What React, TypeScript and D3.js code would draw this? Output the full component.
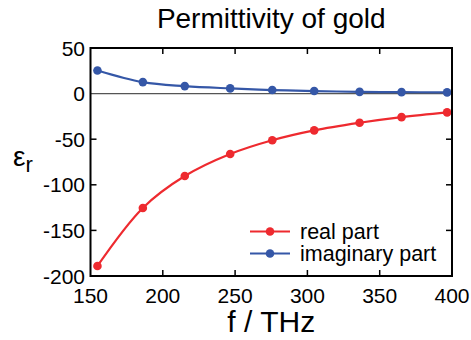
import React from "react";
import * as d3 from "d3";

const freqTHz = [154.8, 186.2, 215.2, 246.6, 275.7, 304.7, 336.1, 365.1, 396.6];
const realPart = [-189.0, -125.4, -90.4, -66.2, -51.1, -40.3, -32.0, -25.8, -20.6];
const imagPart = [25.4, 12.6, 8.2, 5.7, 3.9, 2.8, 1.9, 1.6, 1.3];
const xTicks = [150, 200, 250, 300, 350, 400];
const yTicks = [50, 0, -50, -100, -150, -200];
const seriesNames = ["real part", "imaginary part"];
const seriesColors = ["#ee2a2f", "#3557a7"];

const W = 471, H = 340;
const L = 90.5, R = 452, T = 48, B = 276;
const FONT = "Liberation Sans, Arial, sans-serif";

export default function App() {
  const x = d3.scaleLinear().domain([150, 400]).range([L, R]);
  const y = d3.scaleLinear().domain([-200, 50]).range([B, T]);
  const series = [realPart, imagPart];
  const line = d3
    .line<number>()
    .x((_, i) => x(freqTHz[i]))
    .y((d) => y(d))
    .curve(d3.curveCatmullRom.alpha(0.5));
  const tl = 6;
  const lgY = 231.5, lgStep = 22;
  return (
    <svg
      width={W}
      height={H}
      style={{ position: "absolute", left: 0, top: 0, background: "#fff" }}
      fontFamily={FONT}
    >
      <text x={(L + R) / 2} y={28} textAnchor="middle" fontSize={28}>
        Permittivity of gold
      </text>
      <line x1={L} x2={R} y1={y(0)} y2={y(0)} stroke="#555" strokeWidth={1.2} />
      {xTicks.slice(1, -1).map((t) => (
        <g key={"xt" + t}>
          <line x1={x(t)} x2={x(t)} y1={B} y2={B - tl} stroke="#000" strokeWidth={1.5} />
          <line x1={x(t)} x2={x(t)} y1={T} y2={T + tl} stroke="#000" strokeWidth={1.5} />
        </g>
      ))}
      {yTicks.slice(1, -1).filter((t) => t !== 0).map((t) => (
        <g key={"yt" + t}>
          <line x1={L} x2={L + tl} y1={y(t)} y2={y(t)} stroke="#000" strokeWidth={1.5} />
          <line x1={R} x2={R - tl} y1={y(t)} y2={y(t)} stroke="#000" strokeWidth={1.5} />
        </g>
      ))}
      {xTicks.map((t) => (
        <text key={"xl" + t} x={x(t)} y={303} textAnchor="middle" fontSize={21}>
          {t}
        </text>
      ))}
      {yTicks.map((t) => (
        <text key={"yl" + t} x={85} y={y(t) + 7.5} textAnchor="end" fontSize={21}>
          {t}
        </text>
      ))}
      {series.map((s, k) => (
        <g key={"s" + k}>
          <path d={line(s) || ""} fill="none" stroke={seriesColors[k]} strokeWidth={2.2} />
          {s.map((v, i) => (
            <circle key={i} cx={x(freqTHz[i])} cy={y(v)} r={4.3} fill={seriesColors[k]} />
          ))}
        </g>
      ))}
      <rect x={L} y={T} width={R - L} height={B - T} fill="none" stroke="#000" strokeWidth={2} />
      {seriesNames.map((n, k) => (
        <g key={"lg" + k}>
          <line x1={250} x2={290} y1={lgY + k * lgStep} y2={lgY + k * lgStep} stroke={seriesColors[k]} strokeWidth={2.2} />
          <circle cx={270} cy={lgY + k * lgStep} r={4.3} fill={seriesColors[k]} />
          <text x={300} y={lgY + 7.5 + k * lgStep} fontSize={21.5}>
            {n}
          </text>
        </g>
      ))}
      <text x={(L + R) / 2} y={332} textAnchor="middle" fontSize={30}>
        f / THz
      </text>
      <text x={13} y={166} fontSize={28}>
        ε<tspan fontSize={22} dy={6}>r</tspan>
      </text>
    </svg>
  );
}
